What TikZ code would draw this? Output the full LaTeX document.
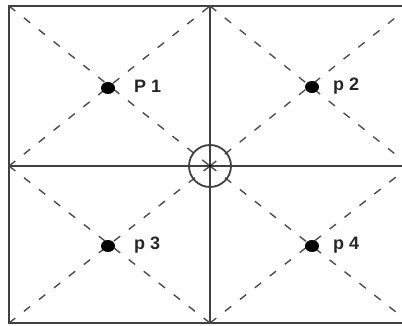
\documentclass[tikz,border=0pt]{standalone}
\usepackage{fontspec}
\setsansfont{Liberation Sans}
\usetikzlibrary{shapes.geometric}
\begin{document}
\begin{tikzpicture}[x=1pt,y=-1pt,
  wall/.style={line width=2.2pt,draw=black!75},
  diag/.style={line width=1.4pt,draw=black!70,dash pattern=on 8pt off 11pt},
  dot/.style={ellipse,fill=black,inner sep=0pt,minimum width=14pt,minimum height=12pt},
  lbl/.style={anchor=base west,inner sep=0pt,text=black!85,font=\sffamily\bfseries\fontsize{18}{20}\selectfont}]
\useasboundingbox (0,0) rectangle (402,326);
% cells
\draw[wall] (9,6) rectangle (410,323);
\draw[wall] (210,6) -- (210,323); \draw[wall] (9,166) -- (410,166);
\foreach \xa/\xb in {9/210,210/410}{\foreach \ya/\yb in {6/166,166/323}{\draw[diag] (\xa,\ya)--(\xb,\yb); \draw[diag] (\xa,\yb)--(\xb,\ya);}}
\node[draw=black!75,line width=1.8pt,circle,inner sep=0pt,minimum size=42pt] (hub) at (210,166) {};
\node[circle,fill=black,inner sep=0pt,minimum size=3pt] (mid) at (hub.center) {};
% points
\node[dot] (p1) at (108,88) {}; \node[lbl] (l1) at (134,93) {P 1};
\node[dot] (p2) at (312,87) {}; \node[lbl] (l2) at (333,91) {p 2};
\node[dot] (p3) at (108,246) {}; \node[lbl] (l3) at (134,249) {p 3};
\node[dot] (p4) at (312,246) {}; \node[lbl] (l4) at (333,250) {p 4};
\end{tikzpicture}
\end{document}
